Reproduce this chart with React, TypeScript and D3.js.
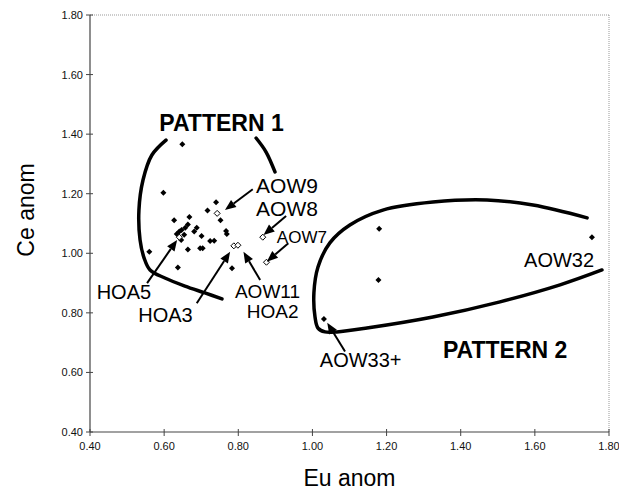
import React from "react";
import * as d3 from "d3";

// ---------- data ----------
const xTicks = [0.4, 0.6, 0.8, 1.0, 1.2, 1.4, 1.6, 1.8];
const yTicks = [0.4, 0.6, 0.8, 1.0, 1.2, 1.4, 1.6, 1.8];

// filled diamonds: [Eu anom, Ce anom]
const filledEu = [0.649, 0.598, 0.740, 0.717, 0.668, 0.627, 0.752, 0.664, 0.657, 0.688, 0.647, 0.641, 0.634, 0.681, 0.701, 0.767, 0.769, 0.654, 0.646, 0.724, 0.735, 0.664, 0.697, 0.704, 0.560, 0.637, 0.783, 1.180, 1.178, 1.031, 1.754];
const filledCe = [1.366, 1.203, 1.171, 1.144, 1.122, 1.111, 1.111, 1.097, 1.086, 1.086, 1.078, 1.073, 1.065, 1.073, 1.058, 1.075, 1.065, 1.062, 1.045, 1.041, 1.042, 1.013, 1.017, 1.017, 1.005, 0.952, 0.950, 1.082, 0.910, 0.779, 1.054];

// open diamonds (AOW9, AOW8, AOW7, HOA5, HOA3, HOA2)
const openEu = [0.743, 0.866, 0.876, 0.641, 0.788, 0.799];
const openCe = [1.134, 1.054, 0.970, 1.054, 1.025, 1.027];

// pattern outlines (data coordinates)
const pattern1Left: [number, number][] = [
  [0.605, 1.380], [0.567, 1.330], [0.543, 1.246], [0.532, 1.145], [0.535, 1.045],
  [0.546, 0.984], [0.562, 0.944], [0.602, 0.917], [0.656, 0.890], [0.710, 0.867], [0.756, 0.847],
];
const pattern1Right: [number, number][] = [[0.848, 1.387], [0.875, 1.340], [0.899, 1.273]];
const pattern2: [number, number][] = [
  [1.741, 1.119], [1.595, 1.162], [1.471, 1.179], [1.325, 1.172], [1.190, 1.145], [1.101, 1.095],
  [1.047, 1.035], [1.015, 0.954], [1.004, 0.867], [1.007, 0.786], [1.015, 0.749], [1.034, 0.736],
  [1.066, 0.736], [1.147, 0.749], [1.325, 0.786], [1.506, 0.837], [1.668, 0.894], [1.781, 0.944],
];

// arrows: tail -> tip
const arrows: [number, number, number, number][] = [
  [0.839, 1.215, 0.764, 1.145],
  [0.929, 1.125, 0.868, 1.061],
  [0.935, 1.034, 0.877, 0.972],
  [0.554, 0.900, 0.635, 1.045],
  [0.688, 0.832, 0.778, 1.005],
  [0.859, 0.910, 0.814, 1.005],
  [1.088, 0.670, 1.040, 0.767],
];

// labels
const labelText = ["AOW9", "AOW8", "AOW7", "HOA5", "HOA3", "AOW11", "HOA2", "AOW32", "AOW33+"];
const labelEu = [0.848, 0.848, 0.904, 0.418, 0.530, 0.791, 0.823, 1.571, 1.020];
const labelCe = [1.204, 1.125, 1.034, 0.846, 0.770, 0.851, 0.783, 0.954, 0.618];
const labelSize = [21, 21, 17, 20, 20, 19, 19, 20, 20];

const patternText = ["PATTERN 1", "PATTERN 2"];
const patternEu = [0.587, 1.352];
const patternCe = [1.412, 0.649];

// ---------- layout ----------
const W = 619;
const H = 493;
const X0 = 90, X1 = 609, Y0 = 432, Y1 = 15;
const FONT = "'Liberation Sans', Arial, Helvetica, sans-serif";

export default function App() {
  const x = d3.scaleLinear().domain([0.4, 1.8]).range([X0, X1]);
  const y = d3.scaleLinear().domain([0.4, 1.8]).range([Y0, Y1]);
  const curve = d3.line<[number, number]>().x(d => x(d[0])).y(d => y(d[1])).curve(d3.curveCatmullRom.alpha(0.5));

  const diamond = (cx: number, cy: number, r: number) =>
    `M${cx},${cy - r}L${cx + r},${cy}L${cx},${cy + r}L${cx - r},${cy}Z`;

  const arrowEls = arrows.map((a, i) => {
    const x1 = x(a[0]), y1 = y(a[1]), x2 = x(a[2]), y2 = y(a[3]);
    const ang = Math.atan2(y2 - y1, x2 - x1);
    const L = 11, Wd = 4.5;
    const bx = x2 - L * Math.cos(ang), by = y2 - L * Math.sin(ang);
    const px = -Math.sin(ang) * Wd, py = Math.cos(ang) * Wd;
    return (
      <g key={"a" + i}>
        <line x1={x1} y1={y1} x2={bx} y2={by} stroke="#000" strokeWidth={2} />
        <path d={`M${x2},${y2}L${bx + px},${by + py}L${bx - px},${by - py}Z`} fill="#000" />
      </g>
    );
  });

  return (
    <svg width={W} height={H} style={{ position: "absolute", left: 0, top: 0, background: "#fff" }} fontFamily={FONT}>
      <rect x={0} y={0} width={W} height={H} fill="#fff" />
      {/* frame */}
      <line x1={X0} y1={Y1} x2={X1} y2={Y1} stroke="#999" strokeWidth={1} strokeDasharray="1,1" />
      <line x1={X1} y1={Y1} x2={X1} y2={Y0} stroke="#999" strokeWidth={1} strokeDasharray="1,1" />
      <line x1={X0} y1={Y1} x2={X0} y2={Y0} stroke="#444" strokeWidth={1.2} />
      <line x1={X0} y1={Y0} x2={X1} y2={Y0} stroke="#444" strokeWidth={1.2} />
      {yTicks.map(t => (
        <g key={"y" + t}>
          <line x1={X0 - 4} x2={X0 + 3} y1={y(t)} y2={y(t)} stroke="#444" />
          <text x={X0 - 7} y={y(t) + 4} fontSize={11} textAnchor="end" fill="#111">{t.toFixed(2)}</text>
        </g>
      ))}
      {xTicks.map(t => (
        <g key={"x" + t}>
          <line x1={x(t)} x2={x(t)} y1={Y0 - 3} y2={Y0 + 4} stroke="#444" />
          <text x={x(t)} y={Y0 + 18} fontSize={11} textAnchor="middle" fill="#111">{t.toFixed(2)}</text>
        </g>
      ))}
      <text x={(X0 + X1) / 2} y={486} fontSize={23} textAnchor="middle" fill="#000">Eu anom</text>
      <text transform={`translate(34,210) rotate(-90)`} fontSize={23} textAnchor="middle" fill="#000">Ce anom</text>

      {/* patterns */}
      <path d={curve(pattern1Left) || ""} fill="none" stroke="#000" strokeWidth={3.5} strokeLinecap="round" />
      <path d={curve(pattern1Right) || ""} fill="none" stroke="#000" strokeWidth={3.5} strokeLinecap="round" />
      <path d={curve(pattern2) || ""} fill="none" stroke="#000" strokeWidth={3.5} strokeLinecap="round" />

      {/* points */}
      {filledEu.map((e, i) => (
        <path key={"f" + i} d={diamond(x(e), y(filledCe[i]), 3)} fill="#000" />
      ))}
      {openEu.map((e, i) => (
        <path key={"o" + i} d={diamond(x(e), y(openCe[i]), 3)} fill="#fff" stroke="#000" strokeWidth={1} />
      ))}

      {arrowEls}

      {labelText.map((t, i) => (
        <text key={"l" + i} x={x(labelEu[i])} y={y(labelCe[i])} fontSize={labelSize[i]} fill="#000">{t}</text>
      ))}
      {patternText.map((t, i) => (
        <text key={"p" + i} x={x(patternEu[i])} y={y(patternCe[i])} fontSize={23} fontWeight="bold" fill="#000">{t}</text>
      ))}
    </svg>
  );
}
